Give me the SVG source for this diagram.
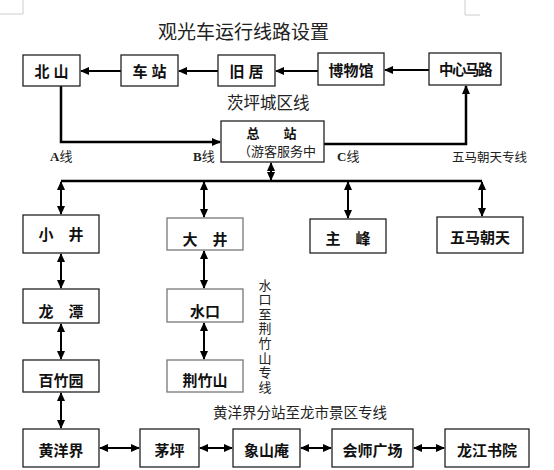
<svg xmlns="http://www.w3.org/2000/svg" width="554" height="470" viewBox="0 0 554 470">
<style>
.box{fill:#fff;stroke:#222;stroke-width:1.3}
.boxg{fill:#fff;stroke:#777;stroke-width:1.3}
.n{font-family:"Liberation Sans","Noto Sans CJK SC",sans-serif;font-weight:bold;font-size:15px;fill:#111;text-anchor:middle;dominant-baseline:central}
.lbl{font-family:"Liberation Serif","Noto Sans CJK SC",serif;font-size:14px;fill:#222;dominant-baseline:central}
.ln{fill:none;stroke:#000;stroke-width:2.5}
.ln2{fill:none;stroke:#000;stroke-width:2}
.mark{fill:none;stroke:#ccc;stroke-width:1}
</style>
<defs>
<marker id="ah" markerUnits="userSpaceOnUse" markerWidth="9" markerHeight="8" refX="8" refY="4" orient="auto-start-reverse">
<path d="M0,0 L9,4 L0,8 Z" fill="#000"/>
</marker>
</defs>
<rect width="554" height="470" fill="#fff"/>
<path class="mark" d="M23,0 V14 H0"/>
<path class="mark" d="M465,0 V15 H480"/>
<text x="158" y="32" class="lbl" style="font-size:19px">观光车运行线路设置</text>
<text x="227" y="103" class="lbl" style="font-size:16.5px">茨坪城区线</text>
<text x="50" y="156" class="lbl" style="font-size:13px"><tspan font-weight="bold">A</tspan>线</text>
<text x="193" y="156" class="lbl" style="font-size:13px"><tspan font-weight="bold">B</tspan>线</text>
<text x="337" y="156" class="lbl" style="font-size:13px"><tspan font-weight="bold">C</tspan>线</text>
<text x="452" y="158" class="lbl" style="font-size:12.5px">五马朝天专线</text>
<text x="213" y="413" class="lbl" style="font-size:14.5px">黄洋界分站至龙市景区专线</text>
<g class="lbl" style="font-size:13px;text-anchor:middle">
<text x="265" y="285">水</text><text x="265" y="299.6">口</text><text x="265" y="314.2">至</text><text x="265" y="328.8">荆</text><text x="265" y="343.4">竹</text><text x="265" y="358">山</text><text x="265" y="372.6">专</text><text x="265" y="387.2">线</text>
</g>
<g id="connectors">
<line class="ln2" x1="121" y1="71" x2="81" y2="71" marker-end="url(#ah)"/>
<line class="ln2" x1="218" y1="71" x2="179" y2="71" marker-end="url(#ah)"/>
<line class="ln2" x1="318" y1="71" x2="276" y2="71" marker-end="url(#ah)"/>
<line class="ln2" x1="429" y1="70" x2="385" y2="70" marker-end="url(#ah)"/>
<polyline class="ln" points="61,86 61,142 220,142" marker-end="url(#ah)"/>
<polyline class="ln" points="324,144 466,144 466,86" marker-end="url(#ah)"/>
<line class="ln" x1="61" y1="181" x2="482" y2="181"/>
<line class="ln2" x1="271" y1="163" x2="271" y2="180" marker-start="url(#ah)" marker-end="url(#ah)"/>
<line class="ln2" x1="61" y1="182" x2="61" y2="214" marker-start="url(#ah)" marker-end="url(#ah)"/>
<line class="ln2" x1="204" y1="182" x2="204" y2="217" marker-start="url(#ah)" marker-end="url(#ah)"/>
<line class="ln2" x1="348" y1="182" x2="348" y2="218" marker-start="url(#ah)" marker-end="url(#ah)"/>
<line class="ln2" x1="482" y1="182" x2="482" y2="216" marker-start="url(#ah)" marker-end="url(#ah)"/>
<line class="ln2" x1="61" y1="254" x2="61" y2="288" marker-start="url(#ah)" marker-end="url(#ah)"/>
<line class="ln2" x1="61" y1="324" x2="61" y2="359" marker-start="url(#ah)" marker-end="url(#ah)"/>
<line class="ln2" x1="61" y1="393" x2="61" y2="428" marker-start="url(#ah)" marker-end="url(#ah)"/>
<line class="ln2" x1="204" y1="251" x2="204" y2="288" marker-start="url(#ah)" marker-end="url(#ah)"/>
<line class="ln2" x1="204" y1="323" x2="204" y2="359" marker-start="url(#ah)" marker-end="url(#ah)"/>
<line class="ln2" x1="100" y1="448" x2="139" y2="448" marker-start="url(#ah)" marker-end="url(#ah)"/>
<line class="ln2" x1="200" y1="448" x2="232" y2="448" marker-start="url(#ah)" marker-end="url(#ah)"/>
<line class="ln2" x1="301" y1="448" x2="331" y2="448" marker-start="url(#ah)" marker-end="url(#ah)"/>
<line class="ln2" x1="414" y1="448" x2="444" y2="448" marker-start="url(#ah)" marker-end="url(#ah)"/>
</g>
<g id="beishan"><rect class="box" x="23" y="55" width="57" height="31"/><text class="n" x="51.5" y="71">北 山</text></g>
<g id="chezhan"><rect class="box" x="121" y="55" width="57" height="31"/><text class="n" x="149.5" y="71">车 站</text></g>
<g id="jiuju"><rect class="box" x="218" y="55" width="57" height="31"/><text class="n" x="246.5" y="71">旧 居</text></g>
<g id="bowuguan"><rect class="box" x="318" y="53" width="66" height="32"/><text class="n" x="351" y="70">博物馆</text></g>
<g id="zhongxinlu"><rect class="box" x="429" y="53" width="72" height="32"/><text class="n" x="465" y="70" style="font-size:14.5px;letter-spacing:-1.5px">中心马路</text></g>
<g id="zongzhan"><rect class="box" x="221" y="121" width="103" height="41"/>
<text class="n" x="253" y="133" style="font-size:13px">总</text><text class="n" x="290" y="133" style="font-size:13px">站</text>
<text class="lbl" x="238" y="151" style="font-size:13px">（游客服务中</text></g>
<g id="xiaojing"><rect class="box" x="23" y="215" width="76" height="38"/><text class="n" x="61" y="234">小　井</text></g>
<g id="dajing"><rect class="boxg" x="167" y="218" width="76" height="32"/><text class="n" x="205" y="239">大　井</text></g>
<g id="zhufeng"><rect class="box" x="310" y="219" width="76" height="34"/><text class="n" x="348" y="238">主　峰</text></g>
<g id="wumachaotian"><rect class="box" x="437" y="217" width="86" height="36"/><text class="n" x="480" y="237">五马朝天</text></g>
<g id="longtan"><rect class="box" x="23" y="289" width="76" height="34"/><text class="n" x="61" y="311">龙　潭</text></g>
<g id="shuikou"><rect class="boxg" x="167" y="289" width="76" height="33"/><text class="n" x="205" y="311">水口</text></g>
<g id="baizhuyuan"><rect class="box" x="23" y="360" width="76" height="32"/><text class="n" x="61" y="380">百竹园</text></g>
<g id="jingzhushan"><rect class="boxg" x="167" y="360" width="76" height="32"/><text class="n" x="205" y="380">荆竹山</text></g>
<g id="huangyangjie"><rect class="box" x="23" y="429" width="76" height="38"/><text class="n" x="61" y="450">黄洋界</text></g>
<g id="maoping"><rect class="box" x="140" y="429" width="59" height="38"/><text class="n" x="169.5" y="450">茅坪</text></g>
<g id="xiangshanan"><rect class="box" x="233" y="429" width="67" height="38"/><text class="n" x="266.5" y="450">象山庵</text></g>
<g id="huishiguangchang"><rect class="box" x="332" y="429" width="81" height="38"/><text class="n" x="372.5" y="450">会师广场</text></g>
<g id="longjiangshuyuan"><rect class="box" x="445" y="429" width="84" height="38"/><text class="n" x="487" y="450">龙江书院</text></g>
</svg>
